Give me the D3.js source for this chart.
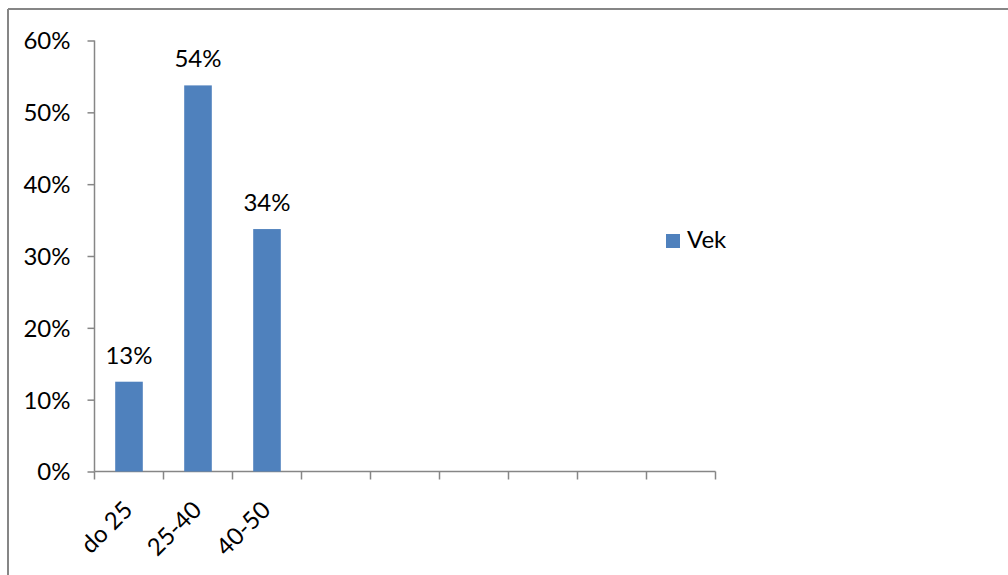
<!DOCTYPE html>
<html>
<head>
<meta charset="utf-8">
<script src="https://cdn.jsdelivr.net/npm/d3@7"></script>
<style>
  body { margin: 0; background: #fff; }
  text { font-family: Lato, "Open Sans", sans-serif; fill: #000; }
</style>
</head>
<body>
<div id="chart"></div>
<script>
// age groups (Vek) - only first three have values, the rest of the slots are empty
var categories = ["do 25", "25-40", "40-50", "", " ", "  ", "   ", "    ", "     "];
var values = [12.5, 53.75, 33.75];
var labels = ["13%", "54%", "34%"];
var yTicks = [0, 10, 20, 30, 40, 50, 60];
var seriesName = "Vek";

var width = 1008, height = 575;
var barColor = "#4F81BD", axisColor = "#868686";
var fs = 24;

var svg = d3.select("#chart").append("svg")
    .attr("width", width)
    .attr("height", height);

// outer frame (only top and left visible)
svg.append("line").attr("x1", 8).attr("x2", width).attr("y1", 9).attr("y2", 9)
   .attr("stroke", axisColor).attr("stroke-width", 2);
svg.append("line").attr("x1", 8).attr("x2", 8).attr("y1", 9).attr("y2", height)
   .attr("stroke", axisColor).attr("stroke-width", 2);

var x = d3.scaleBand()
          .domain(categories)
          .range([94.5, 715.5])
          .paddingInner(0.6)
          .paddingOuter(0.3);

var y = d3.scaleLinear()
          .domain([0, 60])
          .range([471.5, 40.5]);

// y axis
var yAxis = svg.append("g")
    .attr("transform", "translate(94.5,0)")
    .call(d3.axisLeft(y).tickValues(yTicks).tickSize(7).tickPadding(17)
      .tickFormat(function(d) { return d + "%"; }));
yAxis.selectAll("path,line").attr("stroke", axisColor).attr("stroke-width", 1.5);
yAxis.select(".domain").attr("d", "M0," + y(60) + "V" + y(0));
yAxis.selectAll("text").attr("font-size", fs).attr("fill", "#000")
     .attr("font-family", "Lato, 'Open Sans', sans-serif").attr("dy", "0.35em");

// x axis: line and ticks at slot boundaries
var step = x.step();
var gx = svg.append("g");
gx.append("line")
  .attr("x1", 94.5).attr("x2", 715.5)
  .attr("y1", y(0)).attr("y2", y(0))
  .attr("stroke", axisColor).attr("stroke-width", 1.5);
gx.selectAll(".tick")
  .data(d3.range(categories.length + 1))
  .enter().append("line")
  .attr("x1", function(i) { return 94.5 + i * step; })
  .attr("x2", function(i) { return 94.5 + i * step; })
  .attr("y1", y(0)).attr("y2", y(0) + 8)
  .attr("stroke", axisColor).attr("stroke-width", 1.5);

// rotated category labels
gx.selectAll(".xlab")
  .data(categories.slice(0, values.length))
  .enter().append("text")
  .attr("class", "xlab")
  .attr("text-anchor", "end")
  .attr("font-size", fs)
  .attr("transform", function(d) {
    return "translate(" + (x(d) + x.bandwidth() / 2 + 5) + "," + (y(0) + 40) + ") rotate(-45)";
  })
  .text(function(d) { return d; });

// bars
svg.selectAll(".bar")
   .data(values)
   .enter().append("rect")
   .attr("class", "bar")
   .attr("x", function(d, i) { return x(categories[i]); })
   .attr("width", x.bandwidth())
   .attr("y", function(d) { return y(d); })
   .attr("height", function(d) { return y(0) - y(d); })
   .attr("fill", barColor);

// data labels
svg.selectAll(".dlab")
   .data(values)
   .enter().append("text")
   .attr("class", "dlab")
   .attr("text-anchor", "middle")
   .attr("font-size", fs)
   .attr("x", function(d, i) { return x(categories[i]) + x.bandwidth() / 2; })
   .attr("y", function(d) { return y(d) - 18; })
   .text(function(d, i) { return labels[i]; });

// legend
var legend = svg.append("g").attr("transform", "translate(666,234)");
legend.append("rect").attr("width", 14).attr("height", 14).attr("fill", barColor);
legend.append("text").attr("x", 21).attr("y", 14).attr("font-size", fs).text(seriesName);
</script>
</body>
</html>
